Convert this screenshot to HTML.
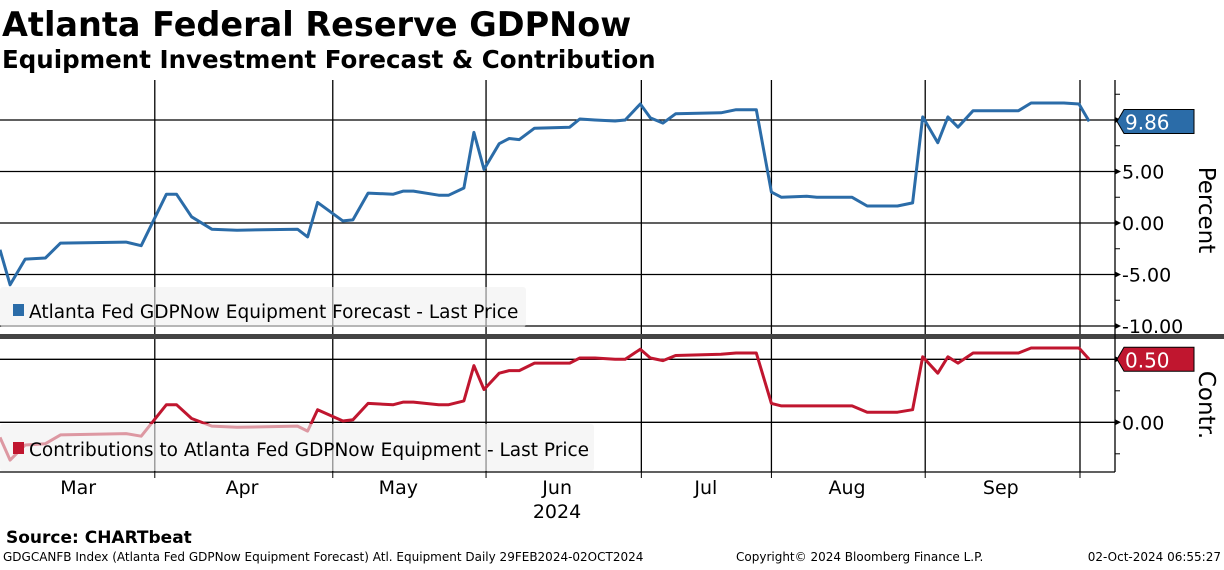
<!DOCTYPE html>
<html><head><meta charset="utf-8"><style>
body{margin:0;background:#fff;font-family:"DejaVu Sans","Liberation Sans",sans-serif;}
svg text{font-family:"DejaVu Sans","Liberation Sans",sans-serif;}
</style></head><body>
<svg id="c" width="1224" height="566" xmlns="http://www.w3.org/2000/svg">
<text x="2" y="36" font-size="33.5" font-weight="bold">Atlanta Federal Reserve GDPNow</text>
<text x="2" y="68" font-size="24.5" font-weight="bold">Equipment Investment Forecast &amp; Contribution</text>
<g id="grid"></g>
<g id="series"></g>
<g id="axes"></g>
<text x="6" y="543" font-size="17" font-weight="bold">Source: CHARTbeat</text>
<text x="3" y="561" font-size="12">GDGCANFB Index (Atlanta Fed GDPNow Equipment Forecast) Atl. Equipment  Daily 29FEB2024-02OCT2024</text>
<text x="736" y="561" font-size="12">Copyright© 2024 Bloomberg Finance L.P.</text>
<text x="1221" y="561" font-size="12" text-anchor="end">02-Oct-2024 06:55:27</text>
</svg>
<script>
const days=[0,2,5,9,12,25,28,33,35,38,42,47,59,61,63,68,70,73,78,80,82,87,89,92,94,96,99,101,103,106,113,115,118,122,124,127,129,131.5,134,143,146,150,153,155,160,162,169,172,178,181,183,186,188,190,193,202,204.5,211,214,216];
const forecast=[-2.6,-6.0,-3.5,-3.4,-1.95,-1.85,-2.2,2.8,2.8,0.6,-0.6,-0.7,-0.6,-1.35,2.0,0.2,0.3,2.9,2.8,3.1,3.1,2.7,2.7,3.4,8.8,5.2,7.7,8.2,8.1,9.2,9.3,10.1,10.0,9.9,10.0,11.55,10.2,9.7,10.6,10.7,11.0,11.0,3.0,2.5,2.6,2.5,2.5,1.65,1.65,1.95,10.3,7.8,10.3,9.3,10.9,10.9,11.65,11.65,11.55,9.86];
const contrib=[-0.12,-0.30,-0.18,-0.17,-0.10,-0.09,-0.11,0.14,0.14,0.03,-0.03,-0.04,-0.03,-0.07,0.10,0.01,0.02,0.15,0.14,0.16,0.16,0.14,0.14,0.17,0.45,0.26,0.39,0.41,0.41,0.47,0.47,0.51,0.51,0.50,0.50,0.58,0.51,0.49,0.53,0.54,0.55,0.55,0.15,0.13,0.13,0.13,0.13,0.08,0.08,0.10,0.52,0.39,0.52,0.47,0.55,0.55,0.59,0.59,0.59,0.50];
const monthLabels=["Mar","Apr","May","Jun","Jul","Aug","Sep"];
const monthLabelDays=[15.5,48,79,110.5,140,168,198.5];
const monthBoundDays=[30.7,66,96.4,127.2,153,183.5,214.2];
const topTicks=[10,5,0,-5,-10];
const topTickLabels=["","5.00","0.00","-5.00","-10.00"];
const botTicks=[0.5,0];
const botTickLabels=["","0.00"];
const NS="http://www.w3.org/2000/svg";
const X=d=>d*5.042;
const YT=v=>223-v*10.3;
const YB=v=>422.3-v*126;
const R=1115;
function mk(t,a,p){const e=document.createElementNS(NS,t);for(const k in a)e.setAttribute(k,a[k]);document.getElementById(p).appendChild(e);return e;}
let e;
e=mk('rect',{x:0,y:80,width:R,height:254,fill:'#fff'},'grid');
topTicks.forEach(v=>{e=mk('line',{x1:0,x2:R,y1:YT(v),y2:YT(v),stroke:'#000','stroke-width':1.3},'grid');});
botTicks.forEach(v=>{e=mk('line',{x1:0,x2:R,y1:YB(v),y2:YB(v),stroke:'#000','stroke-width':1.3},'grid');});
monthBoundDays.forEach(d=>{e=mk('line',{x1:X(d),x2:X(d),y1:80,y2:472,stroke:'#000','stroke-width':1.3},'grid');});
e=mk('line',{x1:0,x2:R,y1:472,y2:472,stroke:'#000','stroke-width':1.3},'grid');
const pT=days.map((d,i)=>X(d).toFixed(1)+','+YT(forecast[i]).toFixed(1)).join(' ');
e=mk('polyline',{points:pT,fill:'none',stroke:'#2b6ca8','stroke-width':3,'stroke-linejoin':'round'},'series');


const pB=days.map((d,i)=>X(d).toFixed(1)+','+YB(contrib[i]).toFixed(1)).join(' ');
e=mk('polyline',{points:pB,fill:'none',stroke:'#c0162f','stroke-width':3,'stroke-linejoin':'round'},'series');


e=mk('rect',{x:0,y:287,width:526,height:40,fill:'#f0f0f0','fill-opacity':0.6,rx:3},'series');


mk('rect',{x:13,y:304,width:11,height:12,fill:'#2b6ca8'},'series');
e=mk('text',{x:29,y:318,'font-size':18.5},'series');e.textContent='Atlanta Fed GDPNow Equipment Forecast - Last Price';


e=mk('rect',{x:0,y:424,width:594,height:47,fill:'#f0f0f0','fill-opacity':0.6,rx:3},'series');


mk('rect',{x:13,y:442,width:11,height:12,fill:'#c0162f'},'series');
e=mk('text',{x:29,y:456,'font-size':18.5},'series');e.textContent='Contributions to Atlanta Fed GDPNow Equipment - Last Price';


e=mk('rect',{x:0,y:334,width:1224,height:5,fill:'#444'},'axes');


mk('line',{x1:R,x2:R,y1:80,y2:472,stroke:'#000','stroke-width':1.3},'axes');
topTicks.forEach((v,i)=>{mk('path',{d:`M${R} ${YT(v)-3}L${R+6} ${YT(v)}L${R} ${YT(v)+3}Z`,fill:'#000'},'axes');
 e=mk('text',{x:R+7,y:YT(v)+7,'font-size':19},'axes');e.textContent=topTickLabels[i];
 
 
 if(v>-10){mk('line',{x1:R,x2:R+5,y1:YT(v-2.5),y2:YT(v-2.5),stroke:'#000'},'axes');}});
mk('line',{x1:R,x2:R+5,y1:YT(12.5),y2:YT(12.5),stroke:'#000'},'axes');
botTicks.forEach((v,i)=>{mk('path',{d:`M${R} ${YB(v)-3}L${R+6} ${YB(v)}L${R} ${YB(v)+3}Z`,fill:'#000'},'axes');
 e=mk('text',{x:R+7,y:YB(v)+7,'font-size':19},'axes');e.textContent=botTickLabels[i];
 
 });
mk('line',{x1:R,x2:R+5,y1:YB(0.25),y2:YB(0.25),stroke:'#000'},'axes');
mk('line',{x1:R,x2:R+5,y1:YB(-0.25),y2:YB(-0.25),stroke:'#000'},'axes');
function tag(y,col,txt,name){const g=mk('g',{},'axes');
 const p=document.createElementNS(NS,'path');p.setAttribute('d',`M${R+2} ${y}L${R+9} ${y-12}L${R+79} ${y-12}L${R+79} ${y+12}L${R+9} ${y+12}Z`);p.setAttribute('fill',col);p.setAttribute('stroke','#000');g.appendChild(p);
 const t=document.createElementNS(NS,'text');t.setAttribute('x',R+10);t.setAttribute('y',y+8);t.setAttribute('font-size',20);t.setAttribute('fill','#fff');t.textContent=txt;g.appendChild(t);}
tag(YT(forecast[forecast.length-1]),'#2b6ca8',forecast[forecast.length-1].toFixed(2),'forecast-last-value');
tag(YB(contrib[contrib.length-1]),'#c0162f',contrib[contrib.length-1].toFixed(2),'contribution-last-value');
e=mk('text',{x:0,y:0,'font-size':23,transform:'translate(1199,210) rotate(90)','text-anchor':'middle'},'axes');e.textContent='Percent';


e=mk('text',{x:0,y:0,'font-size':23,transform:'translate(1199,405) rotate(90)','text-anchor':'middle'},'axes');e.textContent='Contr.';


monthBoundDays.forEach(d=>{mk('line',{x1:X(d),x2:X(d),y1:472,y2:478,stroke:'#000'},'axes');});
monthLabels.forEach((m,i)=>{e=mk('text',{x:X(monthLabelDays[i]),y:494,'font-size':19,'text-anchor':'middle'},'axes');e.textContent=m;
 
 });
e=mk('text',{x:557,y:518,'font-size':19,'text-anchor':'middle'},'axes');e.textContent='2024';


</script>
</body></html>
